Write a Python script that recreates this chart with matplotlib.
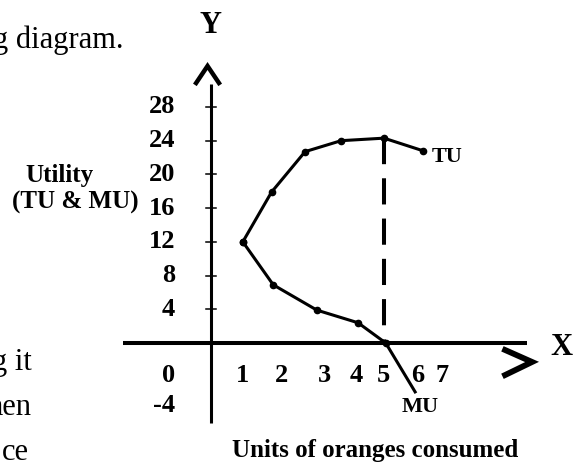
import matplotlib
matplotlib.use("Agg")
import matplotlib.pyplot as plt

plt.rcParams['font.family'] = ['Liberation Serif', 'DejaVu Serif']

# total utility and marginal utility
tu_units = [0.92, 1.75, 2.72, 3.76, 5.0, 6.13]
tu = [12, 17.9, 22.7, 24.0, 24.3, 22.8]
mu_units = [0.92, 1.8, 3.06, 4.25, 5.05, 5.9]
mu = [12, 6.9, 3.9, 2.4, 0, -5.8]

y_ticks = [4, 8, 12, 16, 20, 24, 28]
x_labels = ['1', '2', '3', '4', '5', '6', '7']
x_label_pos = [0.90, 2.05, 3.27, 4.19, 4.97, 5.98, 6.68]

fig = plt.figure(figsize=(5.8, 4.63), dpi=100)
ax = fig.add_axes([0, 0, 1, 1])
ax.set_xlim(-6.098, 10.665)
ax.set_ylim(-14.235, 40.688)
ax.axis('off')

bold = dict(fontweight='bold', color='black')

# axes drawn by hand
ax.plot([0, 0], [-9.49, 30.72], color='black', lw=2.2, solid_capstyle='butt')
ax.plot([-2.54, 9.13], [0, 0], color='black', lw=2.9, solid_capstyle='butt')
for t in y_ticks:
    ax.plot([-0.14, 0.14], [t, t], color='black', lw=1.1)
    ax.text(-1.04, t, str(t), ha='right', va='center', fontsize=19, **bold)

# arrow heads
ax.plot([-0.43, -0.10, 0.23], [30.84, 32.86, 30.84], color='black', lw=3.2,
        solid_joinstyle='miter')
ax.plot([8.50, 9.28, 8.50], [-0.83, -2.25, -3.80], color='black', lw=4.2,
        solid_joinstyle='miter')
ax.text(0, 36.77, 'Y', ha='center', va='baseline', fontsize=22, **bold)
ax.text(10.14, -1.42, 'X', ha='center', va='baseline', fontsize=22, **bold)

for pos, lab in zip(x_label_pos, x_labels):
    ax.text(pos, -4.63, lab, ha='center', va='baseline', fontsize=19, **bold)
ax.text(-1.04, -4.63, '0', ha='right', va='baseline', fontsize=19, **bold)
ax.text(-1.04, -8.19, '-4', ha='right', va='baseline', fontsize=19, **bold)

# curves
ax.plot(tu_units, tu, color='black', lw=2.2, marker='o', markersize=4.5)
ax.plot(mu_units, mu, color='black', lw=2.2, marker='o', markersize=4.5,
        markevery=[0, 1, 2, 3, 4])
peak = tu.index(max(tu))
ax.plot([tu_units[peak], tu_units[peak]], [tu[peak], 0], color='black',
        lw=2.9, linestyle=(0, (6.5, 3.5)))

ax.text(6.39, 21.47, 'TU', ha='left', va='baseline', fontsize=16, **bold)
ax.text(6.04, -8.19, 'MU', ha='center', va='baseline', fontsize=16, **bold)

ax.text(-4.39, 19.1, 'Utility', ha='center', va='baseline', fontsize=18, **bold)
ax.text(-3.93, 16.0, '(TU & MU)', ha='center', va='baseline', fontsize=18, **bold)
ax.text(0.61, -13.52, 'Units of oranges consumed', ha='left', va='baseline',
        fontsize=18, **bold)

# surrounding page text
ax.text(-6.30, 35.0, 'g diagram.', ha='left', va='baseline', fontsize=22)
ax.text(-6.33, -3.2, 'g it', ha='left', va='baseline', fontsize=22)
ax.text(-6.45, -8.54, 'hen', ha='left', va='baseline', fontsize=22)
ax.text(-6.04, -13.88, 'ce', ha='left', va='baseline', fontsize=22)

fig.savefig('out.png', dpi=100)
